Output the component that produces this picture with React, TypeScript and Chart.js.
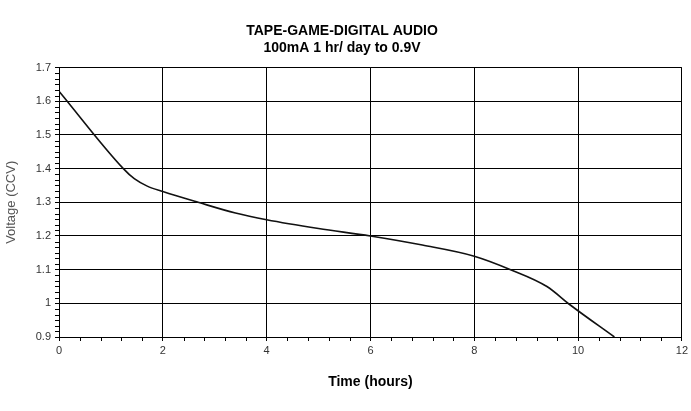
import { useEffect, useRef } from "react";
import { Chart, registerables } from "chart.js";

Chart.register(...registerables);

const timeHours = [0, 1.24, 1.45, 1.7, 2, 2.68, 3.4, 4, 5, 6, 7, 8, 8.7, 9.4, 9.85, 10.7];
const voltage = [1.63, 1.4, 1.37, 1.348, 1.332, 1.3, 1.268, 1.248, 1.222, 1.2, 1.173, 1.14, 1.1, 1.05, 0.995, 0.9];
const titleLines = ["TAPE-GAME-DIGITAL AUDIO", "100mA 1 hr/ day to 0.9V"];
const xTickValues = [0, 2, 4, 6, 8, 10, 12];
const yTickValues = [0.9, 1, 1.1, 1.2, 1.3, 1.4, 1.5, 1.6, 1.7];
const xMinorPerMajor = 5;
const yMinorPerMajor = 6;

const minorTicks = {
  id: "minorTicks",
  afterDraw(chart: any) {
    const ctx = chart.ctx;
    const xs = chart.scales.x;
    const ys = chart.scales.y;
    const area = chart.chartArea;
    ctx.save();
    ctx.strokeStyle = "#000";
    ctx.lineWidth = 1;
    ctx.beginPath();
    for (let i = 0; i < xTickValues.length - 1; i++) {
      const a = xTickValues[i];
      const b = xTickValues[i + 1];
      for (let k = 1; k < xMinorPerMajor; k++) {
        const px = Math.round(xs.getPixelForValue(a + ((b - a) * k) / xMinorPerMajor)) + 0.5;
        ctx.moveTo(px, area.bottom);
        ctx.lineTo(px, area.bottom + 4);
      }
    }
    for (let i = 0; i < yTickValues.length - 1; i++) {
      const a = yTickValues[i];
      const b = yTickValues[i + 1];
      for (let k = 1; k < yMinorPerMajor; k++) {
        const py = Math.round(ys.getPixelForValue(a + ((b - a) * k) / yMinorPerMajor)) + 0.5;
        ctx.moveTo(area.left - 4, py);
        ctx.lineTo(area.left, py);
      }
    }
    ctx.stroke();
    ctx.restore();
  },
};

export default function App() {
  const ref = useRef<HTMLCanvasElement | null>(null);
  useEffect(() => {
    document.body.style.margin = "0";
    const canvas = ref.current;
    if (!canvas) return;
    const chart = new Chart(canvas, {
      type: "line",
      data: {
        datasets: [
          {
            data: timeHours.map((t, i) => ({ x: t, y: voltage[i] })),
            borderColor: "#111",
            borderWidth: 1.6,
            pointRadius: 0,
            cubicInterpolationMode: "monotone",
            fill: false,
          },
        ],
      },
      options: {
        animation: false,
        responsive: false,
        maintainAspectRatio: false,
        layout: { padding: { left: 0, right: 7, top: 0, bottom: 20 } },
        plugins: {
          legend: { display: false },
          tooltip: { enabled: false },
          title: {
            display: true,
            text: titleLines,
            color: "#000",
            font: { family: "Liberation Sans", size: 14, weight: "bold" },
            padding: { top: 23, bottom: 11 },
          },
        },
        scales: {
          x: {
            type: "linear",
            min: 0,
            max: 12,
            afterBuildTicks: (s: any) => {
              s.ticks = xTickValues.map((v) => ({ value: v }));
            },
            ticks: {
              color: "#333",
              font: { family: "Liberation Sans", size: 11 },
              padding: 3,
              maxRotation: 0,
              callback: (v: any) => String(v),
            },
            grid: { color: "#000", lineWidth: 1, tickLength: 4, tickColor: "#000" },
            border: { color: "#000", width: 1 },
            title: {
              display: true,
              text: "Time (hours)",
              color: "#000",
              font: { family: "Liberation Sans", size: 14, weight: "bold" },
              padding: { top: 6, bottom: 0 },
            },
            afterFit: (s: any) => {
              s.height = 54;
            },
          },
          y: {
            type: "linear",
            min: 0.9,
            max: 1.7,
            afterBuildTicks: (s: any) => {
              s.ticks = yTickValues.map((v) => ({ value: v }));
            },
            ticks: {
              color: "#333",
              font: { family: "Liberation Sans", size: 11 },
              padding: 4,
              callback: (v: any) => String(Math.round(v * 10) / 10),
            },
            grid: { color: "#000", lineWidth: 1, tickLength: 4, tickColor: "#000" },
            border: { color: "#000", width: 1 },
            title: {
              display: true,
              text: "Voltage (CCV)",
              color: "#555",
              font: { family: "Liberation Sans", size: 13 },
              padding: { top: 4, bottom: 4 },
            },
            afterFit: (s: any) => {
              s.width = 59;
            },
          },
        },
      },
      plugins: [minorTicks],
    });
    return () => chart.destroy();
  }, []);
  return <canvas ref={ref} width={691} height={411} style={{ display: "block" }} />;
}
